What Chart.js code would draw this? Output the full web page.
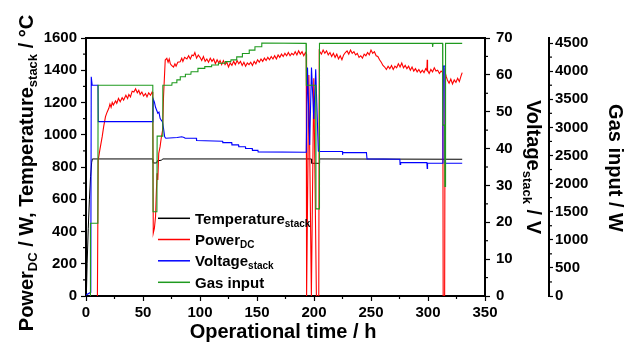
<!DOCTYPE html>
<html>
<head>
<meta charset="utf-8">
<script src="https://cdn.jsdelivr.net/npm/chart.js@4.4.1/dist/chart.umd.min.js"></script>
<style>
  html, body { margin: 0; padding: 0; background: #fff; }
  #wrap { width: 633px; height: 342px; }
</style>
</head>
<body>
<div id="wrap"><canvas id="chart" width="633" height="342"></canvas></div>
<script>
const FONT = "'Liberation Sans', Arial, sans-serif";

// stack temperature, left axis (°C)
const tempTime = [0.3, 1, 2, 3, 4, 5, 5.6, 58.6, 58.9, 62.0, 62.5, 66.0, 67.5, 197.7, 198.0, 204.6, 204.9, 330];
const tempValue = [0, 200, 420, 600, 740, 830, 850, 850, 825, 825, 838, 842, 850, 850, 823, 823, 850, 848];

// DC power, left axis (W)
const powerTime = [
  10.0, 10.5, 10.7, 12, 14.2, 15.5, 17.1, 18.5, 20, 21, 22, 23, 24, 25.9, 27, 28.5, 30, 31.7, 33, 35,
  36.5, 37.6, 39, 40.5, 42, 43.5, 45, 46.3, 47.5, 49, 50.5, 52.2, 53.5, 55, 56.6, 58, 58.6, 59, 60, 61,
  61.5, 62.3, 63, 63.8, 65, 66, 67.2, 68, 69.5, 70.9, 72, 73, 74, 75, 76.8, 78, 79, 80.5, 82.6, 84,
  85, 86.5, 88.5, 90, 91.5, 93, 94.3, 95.5, 97, 98.5, 100, 101.5, 103, 104.5, 106, 107.5, 109, 110.5, 112, 113.5,
  115, 116.5, 117.6, 119, 120.5, 122, 123.5, 125, 126.5, 128, 129.5, 131, 132.5, 134, 135.5, 137, 138.5, 140, 141.5, 143,
  144.5, 146, 147.5, 149, 150.5, 152, 153.5, 155, 156.5, 158, 159.5, 161, 162.5, 164, 165.5, 167, 168.5, 170, 171.5, 173,
  174.5, 176, 177.5, 179, 180.5, 182, 183.5, 185, 186.5, 188, 189.5, 191, 192.5, 193.2, 193.5, 195.5, 197.7, 199.8, 202.1, 204.2,
  204.6, 206.5, 208, 209.5, 211, 212.5, 214, 215.5, 217, 218.5, 220, 221.5, 223, 224.5, 226, 227.5, 229, 230.5, 232, 233.5,
  235, 236.5, 238, 239.5, 241, 242.5, 244, 245.5, 247, 248.5, 250, 251.5, 253, 254.5, 256, 257.5, 259, 260.5, 262, 263.5,
  265, 266.5, 268, 269.5, 271, 272.5, 274, 275.5, 277, 278.5, 280, 281.5, 283, 284.5, 286, 287.5, 289, 290.5, 292, 293.5,
  295, 296.5, 298, 299, 299.3, 299.6, 301, 302.5, 304, 305.5, 307, 308.5, 310, 311.5, 313.0, 313.3, 314.6, 315.0, 316, 317,
  318.5, 320, 321.5, 323, 324.5, 326, 327.5, 329, 330
];
const powerValue = [
  0, 0, 843, 900, 988, 1050, 1112, 1140, 1164, 1190, 1170, 1200, 1185, 1210, 1195, 1225, 1205, 1230, 1215, 1245,
  1225, 1250, 1235, 1270, 1265, 1285, 1260, 1275, 1250, 1265, 1240, 1255, 1235, 1260, 1245, 1265, 1250, 389, 420, 492,
  600, 761, 720, 885, 926, 980, 1029, 1236, 1463, 1474, 1450, 1470, 1440, 1430, 1420, 1440, 1425, 1450, 1453, 1475,
  1455, 1480, 1470, 1490, 1470, 1495, 1490, 1510, 1475, 1495, 1480, 1460, 1485, 1455, 1470, 1450, 1475, 1455, 1470, 1440,
  1465, 1445, 1460, 1435, 1460, 1435, 1450, 1420, 1445, 1430, 1455, 1435, 1460, 1440, 1455, 1430, 1450, 1425, 1445, 1435,
  1450, 1430, 1455, 1440, 1465, 1450, 1470, 1455, 1475, 1460, 1480, 1465, 1485, 1470, 1490, 1470, 1495, 1480, 1500, 1485,
  1505, 1490, 1510, 1490, 1505, 1495, 1515, 1495, 1520, 1500, 1515, 1490, 1510, 1500, 0, 1370, 0, 1350, 0, 0,
  1520, 1500, 1525, 1505, 1520, 1495, 1510, 1485, 1505, 1480, 1500, 1470, 1490, 1465, 1495, 1510, 1520, 1500, 1525, 1505,
  1515, 1495, 1505, 1480, 1490, 1475, 1500, 1490, 1510, 1495, 1525, 1505, 1515, 1490, 1485, 1465, 1450, 1430, 1420, 1405,
  1425, 1410, 1430, 1405, 1425, 1415, 1440, 1420, 1445, 1415, 1430, 1410, 1425, 1400, 1420, 1395, 1410, 1390, 1405, 1385,
  1400, 1385, 1410, 1400, 1465, 1400, 1380, 1405, 1390, 1415, 1395, 1400, 1380, 1395, 1385, 0, 0, 1390, 1360, 1340,
  1320, 1345, 1315, 1340, 1325, 1350, 1330, 1365, 1385
];

// stack voltage, first right axis (V)
const voltTime = [
  0, 4.2, 4.6, 5.4, 10.5, 10.8, 58.7, 59.0, 60, 61, 62, 63, 64, 65, 66, 67, 68, 69, 70, 80,
  84, 86, 87, 96.8, 97, 119.8, 120, 127.8, 128, 133.8, 134, 139.8, 140, 145.8, 146, 150.8, 151, 193.2, 194.3, 196.2,
  197.8, 199.8, 201.5, 203.8, 205, 224.9, 225.0, 225.3, 246, 246.5, 275.3, 275.5, 276, 299, 299.3, 299.6, 312.8, 313.1, 313.5, 314.8,
  315.1, 330
];
const voltValue = [
  0.3, 1, 59.5, 57.2, 57.2, 47.3, 47.3, 53.4, 52.6, 51.2, 50.4, 49.6, 49.9, 48.2, 47.7, 47.3, 45.5, 43.2, 42.8, 43.0,
  43.2, 43.0, 42.8, 42.8, 42.2, 42.0, 41.6, 41.6, 41.0, 41.0, 40.5, 40.5, 40.0, 40.0, 39.5, 39.5, 39.1, 39.0, 62.0, 41.0,
  62.0, 48.0, 61.5, 39.3, 39.2, 39.2, 38.3, 38.9, 38.9, 37.2, 37.1, 35.7, 36.2, 36.2, 34.6, 36.1, 36.0, 46.4, 62.4, 62.4,
  36.0, 36.0
];

// gas input, second right axis (W)
const gasTime = [
  3.6, 3.9, 10.4, 10.6, 58.6, 58.8, 62.2, 62.4, 67.2, 67.4, 75.3, 75.5, 79.5, 79.7, 82.5, 82.7, 87, 87.2, 92, 92.2,
  98, 98.2, 104, 104.2, 110, 110.2, 116, 116.2, 122, 122.2, 127, 127.2, 132, 132.2, 137, 137.2, 143, 143.2, 148, 148.2,
  154, 154.2, 193.0, 193.3, 201.5, 201.7, 204.6, 204.8, 303.8, 304.1, 304.4, 312.8, 313.0, 314.6, 314.8, 315.2, 315.4, 330
];
const gasValue = [
  0, 1293, 1293, 3750, 3750, 1500, 1500, 2845, 2845, 3750, 3750, 3795, 3795, 3845, 3845, 3900, 3900, 3945, 3945, 3990,
  3990, 4050, 4050, 4080, 4080, 4110, 4110, 4140, 4140, 4170, 4170, 4200, 4200, 4255, 4255, 4315, 4315, 4375, 4375, 4435,
  4435, 4500, 4495, 3750, 3750, 1550, 1550, 4495, 4495, 4430, 4495, 4495, 3040, 3040, 1950, 1950, 4495, 4495
];

const xTicks = [0, 50, 100, 150, 200, 250, 300, 350];
const gasTicks = [0, 500, 1000, 1500, 2000, 2500, 3000, 3500, 4000, 4500];

const toPoints = (xs, ys) => xs.map((x, i) => ({ x: x, y: ys[i] }));

const legendItems = [
  { color: '#000000', parts: [['Temperature', false], ['stack', true]] },
  { color: '#ff0000', parts: [['Power', false], ['DC', true]] },
  { color: '#0000ff', parts: [['Voltage', false], ['stack', true]] },
  { color: '#1f9a1f', parts: [['Gas input', false]] },
];

// text with subscripts, drawn on the canvas
function drawRich(ctx, parts, x, y, angle, size, subSize, subShift, align) {
  ctx.save();
  ctx.translate(x, y);
  ctx.rotate(angle);
  ctx.fillStyle = '#000';
  ctx.textBaseline = 'alphabetic';
  ctx.textAlign = 'left';
  let total = 0;
  parts.forEach(p => {
    ctx.font = 'bold ' + (p[1] ? subSize : size) + 'px ' + FONT;
    total += ctx.measureText(p[0]).width;
  });
  let cx = align === 'center' ? -total / 2 : 0;
  parts.forEach(p => {
    ctx.font = 'bold ' + (p[1] ? subSize : size) + 'px ' + FONT;
    ctx.fillText(p[0], cx, p[1] ? subShift : 0);
    cx += ctx.measureText(p[0]).width;
  });
  ctx.restore();
}

const minorTicks = { x: [25, 50], y: [100, 200], yV: [5, 10], yG: [250, 500] };

const decorPlugin = {
  id: 'decor',
  afterDraw(chart) {
    const ctx = chart.ctx;
    const a = chart.chartArea;
    ctx.save();
    ctx.strokeStyle = '#000';
    ctx.lineWidth = 2;
    ctx.beginPath();
    ctx.moveTo(a.left - 1, a.top);
    ctx.lineTo(a.right + 1, a.top);
    ctx.stroke();

    // minor ticks
    ctx.lineWidth = 1.2;
    Object.keys(minorTicks).forEach(id => {
      const s = chart.scales[id];
      const [step, major] = minorTicks[id];
      const top = id === 'yG' ? 4500 : s.max;
      for (let v = s.min; v <= top + 1e-6; v += step) {
        if (Math.abs(v % major) < 1e-6) continue;
        const p = s.getPixelForValue(v);
        ctx.beginPath();
        if (id === 'x') { ctx.moveTo(p, s.top); ctx.lineTo(p, s.top + 3); }
        else if (id === 'y') { ctx.moveTo(s.right, p); ctx.lineTo(s.right - 3, p); }
        else { ctx.moveTo(s.left, p); ctx.lineTo(s.left + 3, p); }
        ctx.stroke();
      }
    });

    // legend
    const rows = [218.3, 239.5, 260.8, 282.3];
    legendItems.forEach((it, i) => {
      ctx.strokeStyle = it.color;
      ctx.lineWidth = 1.5;
      ctx.beginPath();
      ctx.moveTo(158, rows[i]);
      ctx.lineTo(190, rows[i]);
      ctx.stroke();
      drawRich(ctx, it.parts, 195, rows[i] + 5.5, 0, 15, 10, 3, 'left');
    });
    ctx.restore();

    // axis titles
    drawRich(ctx, [['Power', false], ['DC', true], [' / W, Temperature', false], ['stack', true], [' / \u00B0C', false]],
      33, 173, -Math.PI / 2, 20, 13, 4, 'center');
    drawRich(ctx, [['Voltage', false], ['stack', true], [' / V', false]],
      527, 167, Math.PI / 2, 20, 13, 4, 'center');
    drawRich(ctx, [['Gas input / W', false]], 609, 168, Math.PI / 2, 20, 13, 4, 'center');
    drawRich(ctx, [['Operational time / h', false]], 283, 338, 0, 20, 13, 4, 'center');
  }
};

const tickFont = { family: FONT, size: 15, weight: 'bold' };
const axisGrid = { drawOnChartArea: false, tickLength: 5, tickWidth: 1.2, tickColor: '#000' };
const axisBorder = { color: '#000', width: 2 };
const plainLabel = (v) => String(v);

new Chart(document.getElementById('chart'), {
  type: 'line',
  data: {
    datasets: [
      { label: 'Temperature', data: toPoints(tempTime, tempValue), yAxisID: 'y', borderColor: '#000000', borderWidth: 1, order: 4 },
      { label: 'Power', data: toPoints(powerTime, powerValue), yAxisID: 'y', borderColor: '#ff0000', borderWidth: 1.1, order: 3 },
      { label: 'Voltage', data: toPoints(voltTime, voltValue), yAxisID: 'yV', borderColor: '#0000ff', borderWidth: 1.1, order: 2 },
      { label: 'Gas input', data: toPoints(gasTime, gasValue), yAxisID: 'yG', borderColor: '#1f9a1f', borderWidth: 1.1, order: 1 },
    ],
  },
  options: {
    responsive: false,
    animation: false,
    devicePixelRatio: 1,
    layout: { padding: { top: 38, left: 0, right: 0, bottom: 0 } },
    elements: { point: { radius: 0 }, line: { tension: 0 } },
    plugins: { legend: { display: false }, tooltip: { enabled: false } },
    scales: {
      x: {
        type: 'linear', min: 0, max: 350,
        afterFit: (s) => { s.height = 46; },
        afterBuildTicks: (s) => { s.ticks = xTicks.map(v => ({ value: v })); },
        ticks: { font: tickFont, color: '#000', padding: 3, maxRotation: 0, autoSkip: false, callback: plainLabel },
        grid: axisGrid, border: axisBorder,
      },
      y: {
        position: 'left', min: 0, max: 1600,
        afterFit: (s) => { s.width = 86; },
        ticks: { stepSize: 200, font: tickFont, color: '#000', padding: 4, autoSkip: false, callback: plainLabel },
        grid: axisGrid, border: axisBorder,
      },
      yV: {
        position: 'right', min: 0, max: 70,
        afterFit: (s) => { s.width = 64; },
        ticks: { stepSize: 10, font: tickFont, color: '#000', padding: 6, autoSkip: false, callback: plainLabel },
        grid: axisGrid, border: axisBorder,
      },
      yG: {
        position: 'right', min: 0, max: 4590,
        afterFit: (s) => { s.width = 84; },
        afterBuildTicks: (s) => { s.ticks = gasTicks.map(v => ({ value: v })); },
        ticks: { font: tickFont, color: '#000', padding: 2, autoSkip: false, callback: plainLabel },
        grid: Object.assign({}, axisGrid, { tickLength: 4 }), border: axisBorder,
      },
    },
  },
  plugins: [decorPlugin],
});
</script>
</body>
</html>
